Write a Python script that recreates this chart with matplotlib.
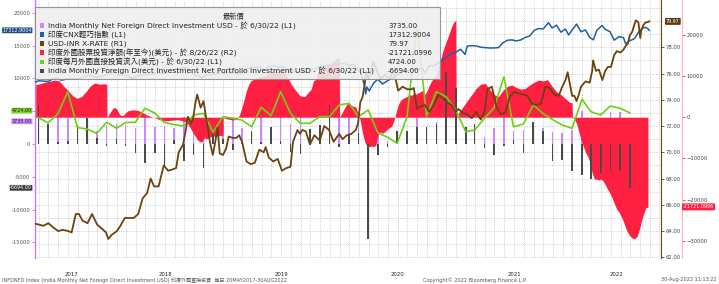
import matplotlib

matplotlib.use("Agg")

import matplotlib.pyplot as plt
import matplotlib.transforms as mtransforms
from matplotlib.patches import Rectangle
import pandas as pd

plt.rcParams['font.family'] = ['DejaVu Sans', 'Noto Sans CJK TC']

# monthly series (L1)
fdi_months = pd.date_range('2017-05-31', '2022-06-30', freq='ME')

net_fdi = [3000, 2500, 4150, 3900, 2000, 2500, 2000, 2900,
           3000, 2900, 2500, 4150, 2600, 2800, 2500, 4150, 2500, 2000, 2300, 3000,
           3900, 2400, 1500, 4150, 2200, 4150, 3000, 4150, 2000, 2500, 3000, 4150,
           4150, 3900, 3000, 1500, 500, 2000, 1500, 4150, 2000, 3300, 3000, 2500,
           2000, 1500, 1000, 2500, 4150, 2000, 2100, 3400, 2500, 1860, 1650, 2100,
           5000, 3000, 2500, 4900, 4900, 3735]

portfolio = [5900, 3100, 300, 500, 2900, 3900, 900, -300,
             800, -300, -1400, -2900, -1400, -3500, 600, -2600, -1700, -3600, 1500, 800,
             -900, 200, 1900, 300, 2600, 500, -1200, -1500, 2300, 2900, 5900, -500,
             1400, 1700, -14500, -1700, -400, 2000, 2000, 2600, 2600, 3000, 11000, 8500,
             2600, 3000, -700, -1700, -300, 600, -1400, 3400, 2000, -2600, -2500, -4100,
             -4700, -5400, -4500, -4100, -4100, -6694]

fdi_inflow = [4000, 3200, 4600, 7960, 2500, 2250, 1610, 3300,
              2380, 3260, 3300, 5430, 4700, 3260, 2950, 2700, 4400, 4660, 1800, 4150,
              3900, 3640, 2620, 5580, 4300, 7960, 4660, 3140, 3140, 4150, 4150, 5930,
              6190, 4150, 5170, 1700, 1000, 90, 4150, 18200, 4200, 7960, 7200, 5170,
              1860, 2120, 3900, 5500, 10240, 2620, 3030, 5930, 4660, 3700, 2880, 2380,
              6800, 4910, 4400, 5780, 5430, 4724]

# CNX Nifty (L1)
nifty_dates = ['2017-05-22', '2017-06-01', '2017-06-15', '2017-07-01', '2017-07-14', '2017-07-28',
               '2017-08-11', '2017-08-25', '2017-09-08', '2017-09-22', '2017-10-06', '2017-10-20',
               '2017-11-03', '2017-11-17', '2017-12-01', '2017-12-15', '2017-12-29',
               '2018-01-12', '2018-01-26', '2018-02-09', '2018-02-23', '2018-03-09', '2018-03-23',
               '2018-04-06', '2018-04-20', '2018-05-04', '2018-05-18', '2018-06-01', '2018-06-15',
               '2018-06-29', '2018-07-13', '2018-07-27', '2018-08-10', '2018-08-24', '2018-08-29',
               '2018-09-07', '2018-09-21', '2018-10-05', '2018-10-12', '2018-10-26', '2018-11-09',
               '2018-11-23', '2018-12-07', '2018-12-21',
               '2019-01-04', '2019-01-18', '2019-02-01', '2019-02-15', '2019-03-01', '2019-03-15',
               '2019-03-29', '2019-04-12', '2019-04-26', '2019-05-10', '2019-05-24', '2019-06-07',
               '2019-06-21', '2019-07-05', '2019-07-19', '2019-08-02', '2019-08-16', '2019-08-30',
               '2019-09-13', '2019-09-20', '2019-09-27', '2019-10-11', '2019-10-25', '2019-11-08',
               '2019-11-22', '2019-12-06', '2019-12-20',
               '2020-01-03', '2020-01-17', '2020-01-31', '2020-02-14', '2020-02-28', '2020-03-06',
               '2020-03-13', '2020-03-20', '2020-03-23', '2020-03-27', '2020-04-03', '2020-04-17',
               '2020-04-30', '2020-05-15', '2020-05-29', '2020-06-12', '2020-06-26', '2020-07-10',
               '2020-07-24', '2020-08-07', '2020-08-21', '2020-09-04', '2020-09-18', '2020-09-25',
               '2020-10-09', '2020-10-23', '2020-11-06', '2020-11-20', '2020-12-04', '2020-12-18',
               '2020-12-31',
               '2021-01-15', '2021-01-29', '2021-02-05', '2021-02-19', '2021-03-05', '2021-03-19',
               '2021-03-31', '2021-04-16', '2021-04-30', '2021-05-14', '2021-05-28', '2021-06-11',
               '2021-06-25', '2021-07-09', '2021-07-23', '2021-08-06', '2021-08-20', '2021-09-03',
               '2021-09-17', '2021-10-01', '2021-10-18', '2021-10-29', '2021-11-12', '2021-11-26',
               '2021-12-10', '2021-12-20', '2021-12-31',
               '2022-01-14', '2022-01-28', '2022-02-11', '2022-02-24', '2022-03-08', '2022-03-18',
               '2022-04-04', '2022-04-14', '2022-04-29', '2022-05-12', '2022-05-27', '2022-06-10',
               '2022-06-17', '2022-07-01', '2022-07-15', '2022-07-29', '2022-08-12', '2022-08-19',
               '2022-08-26', '2022-08-30']
nifty = [9440, 9620, 9580, 9520, 9890, 10010,
         9710, 9860, 9930, 9960, 9980, 10150,
         10450, 10280, 10120, 10330, 10530,
         10680, 11070, 10450, 10490, 10230, 9990,
         10330, 10560, 10620, 10600, 10700, 10820,
         10710, 11010, 11280, 11430, 11560, 11690,
         11590, 11140, 10320, 10470, 10030, 10590,
         10530, 10690, 10750,
         10730, 10900, 10890, 10720, 10860, 11430,
         11620, 11640, 11750, 11280, 11840, 11870,
         11720, 11810, 11420, 10990, 11050, 11020,
         11070, 11270, 11510, 11300, 11580, 11910,
         11910, 11920, 12270,
         12230, 12350, 11960, 12110, 11200, 10990,
         9950, 8750, 7610, 8660, 8080, 9270,
         9860, 9140, 9580, 9970, 10380, 10770,
         11190, 11210, 11370, 11330, 11500, 10800,
         11910, 11930, 12260, 12860, 13260, 13760,
         13980,
         14430, 13630, 14920, 14980, 14940, 14740,
         14690, 14620, 14630, 14680, 15430, 15800,
         15860, 15690, 15850, 16240, 16450, 17320,
         17590, 17530, 18480, 17670, 18100, 17030,
         17510, 16610, 17350,
         18260, 17100, 17370, 16250, 15860, 17290,
         18050, 17480, 17100, 15810, 16350, 16200,
         15290, 15750, 16050, 17160, 17700, 17760,
         17560, 17312.9004]

# USD-INR (R1)
inr_dates = ['2017-05-22', '2017-06-01', '2017-06-15', '2017-07-01', '2017-07-15', '2017-08-01',
             '2017-08-15', '2017-09-01', '2017-09-12', '2017-09-25', '2017-10-05', '2017-10-16',
             '2017-11-01', '2017-11-15', '2017-12-01', '2017-12-15', '2017-12-29',
             '2018-01-05', '2018-01-15', '2018-02-01', '2018-02-12', '2018-02-26', '2018-03-12',
             '2018-03-26', '2018-04-09', '2018-04-23', '2018-05-07', '2018-05-18', '2018-05-29',
             '2018-06-12', '2018-06-28', '2018-07-12', '2018-07-26', '2018-08-06', '2018-08-14',
             '2018-08-28', '2018-09-06', '2018-09-12', '2018-09-21', '2018-09-28', '2018-10-05',
             '2018-10-11', '2018-10-22', '2018-10-31', '2018-11-09', '2018-11-20', '2018-11-29',
             '2018-12-07', '2018-12-14', '2018-12-21', '2018-12-31',
             '2019-01-10', '2019-01-18', '2019-01-31', '2019-02-11', '2019-02-20', '2019-03-01',
             '2019-03-15', '2019-03-28', '2019-04-10', '2019-04-24', '2019-05-08', '2019-05-14',
             '2019-05-24', '2019-06-07', '2019-06-21', '2019-07-04', '2019-07-18', '2019-07-31',
             '2019-08-08', '2019-08-22', '2019-08-30', '2019-09-06', '2019-09-17', '2019-09-30',
             '2019-10-14', '2019-10-31', '2019-11-14', '2019-11-29', '2019-12-13', '2019-12-31',
             '2020-01-10', '2020-01-24', '2020-02-07', '2020-02-21', '2020-02-28', '2020-03-06',
             '2020-03-13', '2020-03-20', '2020-03-24', '2020-03-31', '2020-04-10', '2020-04-16',
             '2020-04-24', '2020-05-08', '2020-05-22', '2020-06-05', '2020-06-19', '2020-07-03',
             '2020-07-17', '2020-07-31', '2020-08-14', '2020-08-21', '2020-08-31', '2020-09-11',
             '2020-09-25', '2020-10-09', '2020-10-23', '2020-11-06', '2020-11-20', '2020-12-04',
             '2020-12-18', '2020-12-31',
             '2021-01-08', '2021-01-22', '2021-02-05', '2021-02-19', '2021-03-05', '2021-03-19',
             '2021-03-31', '2021-04-09', '2021-04-16', '2021-04-23', '2021-05-07', '2021-05-21',
             '2021-06-04', '2021-06-18', '2021-07-02', '2021-07-16', '2021-07-30', '2021-08-13',
             '2021-08-27', '2021-09-10', '2021-09-24', '2021-10-08', '2021-10-22', '2021-11-05',
             '2021-11-19', '2021-11-30', '2021-12-10', '2021-12-17', '2021-12-31',
             '2022-01-07', '2022-01-14', '2022-01-21', '2022-01-28', '2022-02-11', '2022-02-24',
             '2022-03-04', '2022-03-07', '2022-03-16', '2022-03-25', '2022-04-05', '2022-04-14',
             '2022-04-22', '2022-05-02', '2022-05-12', '2022-05-20', '2022-05-31', '2022-06-10',
             '2022-06-17', '2022-06-24', '2022-06-30', '2022-07-08', '2022-07-14', '2022-07-19',
             '2022-07-27', '2022-08-02', '2022-08-05', '2022-08-12', '2022-08-19', '2022-08-24',
             '2022-08-30']
inr = [64.55, 64.5, 64.4, 64.6, 64.3, 64.0,
       64.1, 64.0, 63.9, 65.3, 65.3, 64.8,
       64.6, 65.3, 64.5, 64.2, 63.9,
       63.4, 63.7, 64.0, 64.4, 65.0, 65.0,
       65.0, 65.3, 66.5, 66.9, 68.0, 67.4,
       67.4, 69.0, 68.6, 68.7, 68.8, 70.0,
       70.6, 71.8, 72.7, 72.2, 72.5, 73.7,
       74.4, 73.4, 73.9, 72.5, 70.8, 69.8,
       70.8, 71.9, 69.9, 69.8,
       70.3, 71.2, 71.1, 71.1, 71.3, 70.8,
       69.3, 69.1, 69.2, 70.2, 70.0, 70.4,
       69.6, 69.3, 69.5, 68.6, 68.8, 68.9,
       70.8, 71.7, 71.4, 71.7, 71.6, 70.6,
       71.3, 70.9, 72.0, 71.7, 70.8, 71.4,
       71.0, 71.3, 71.4, 71.7, 72.2, 73.8,
       74.2, 75.2, 76.2, 75.6, 76.3, 76.9,
       76.4, 75.6, 75.9, 75.6, 76.2, 74.7,
       75.0, 74.8, 74.8, 74.9, 73.3, 73.5,
       73.6, 73.1, 73.6, 74.4, 74.1, 73.8,
       73.6, 73.1,
       73.3, 73.0, 72.9, 72.6, 73.1, 72.5,
       73.1, 74.8, 74.9, 75.0, 73.5, 72.9,
       73.0, 74.2, 74.6, 74.5, 74.4, 74.3,
       73.7, 73.6, 73.7, 75.0, 74.9, 74.4,
       74.3, 75.0, 75.5, 76.1, 74.3,
       74.3, 73.9, 74.4, 75.0, 75.4, 75.3,
       76.2, 77.0, 76.2, 76.3, 75.5, 76.2,
       76.5, 76.5, 77.4, 77.7, 77.6, 77.8,
       78.1, 78.3, 78.9, 79.2, 79.7, 80.05,
       79.9, 78.7, 79.3, 79.7, 79.9, 79.9,
       79.97]

# foreign equity net investment, year to date (R2)
fpi_dates = ['2017-05-22', '2017-06-05', '2017-06-20', '2017-07-05', '2017-07-20', '2017-08-04',
             '2017-08-18', '2017-09-01', '2017-09-15', '2017-09-29', '2017-10-13', '2017-10-27',
             '2017-11-10', '2017-11-24', '2017-12-08', '2017-12-22', '2017-12-31',
             '2018-01-01', '2018-01-05', '2018-01-12', '2018-01-19', '2018-01-26', '2018-02-02',
             '2018-02-09', '2018-02-16', '2018-02-23', '2018-03-02', '2018-03-09', '2018-03-23',
             '2018-04-06', '2018-04-20', '2018-05-04', '2018-05-18', '2018-06-01', '2018-06-15',
             '2018-06-29', '2018-07-13', '2018-07-27', '2018-08-10', '2018-08-24', '2018-09-07',
             '2018-09-14', '2018-09-21', '2018-09-28', '2018-10-05', '2018-10-12', '2018-10-19',
             '2018-10-26', '2018-11-02', '2018-11-09', '2018-11-16', '2018-11-23', '2018-11-30',
             '2018-12-07', '2018-12-14', '2018-12-21', '2018-12-31',
             '2019-01-01', '2019-01-04', '2019-01-18', '2019-02-01', '2019-02-15', '2019-02-22',
             '2019-03-01', '2019-03-08', '2019-03-15', '2019-03-22', '2019-03-29', '2019-04-12',
             '2019-04-26', '2019-05-10', '2019-05-24', '2019-06-07', '2019-06-21', '2019-07-05',
             '2019-07-19', '2019-08-02', '2019-08-16', '2019-08-30', '2019-09-13', '2019-09-27',
             '2019-10-04', '2019-10-11', '2019-10-18', '2019-10-25', '2019-11-08', '2019-11-22',
             '2019-12-06', '2019-12-13', '2019-12-20', '2019-12-31',
             '2020-01-01', '2020-01-10', '2020-01-17', '2020-01-24', '2020-01-31', '2020-02-07',
             '2020-02-14', '2020-02-21', '2020-02-28', '2020-03-06', '2020-03-13', '2020-03-20',
             '2020-03-27', '2020-04-03', '2020-04-10', '2020-04-17', '2020-04-24', '2020-05-01',
             '2020-05-08', '2020-05-15', '2020-05-22', '2020-05-29', '2020-06-05', '2020-06-12',
             '2020-06-19', '2020-06-26', '2020-07-03', '2020-07-10', '2020-07-17', '2020-07-24',
             '2020-07-31', '2020-08-07', '2020-08-14', '2020-08-21', '2020-08-28', '2020-09-04',
             '2020-09-11', '2020-09-18', '2020-09-25', '2020-10-02', '2020-10-09', '2020-10-16',
             '2020-10-23', '2020-10-30', '2020-11-06', '2020-11-13', '2020-11-20', '2020-11-27',
             '2020-12-04', '2020-12-11', '2020-12-18', '2020-12-24', '2020-12-31',
             '2021-01-01', '2021-01-08', '2021-01-22', '2021-02-05', '2021-02-19', '2021-03-05',
             '2021-03-19', '2021-04-02', '2021-04-16', '2021-04-30', '2021-05-14', '2021-05-28',
             '2021-06-11', '2021-06-25', '2021-07-09', '2021-07-23', '2021-08-06', '2021-08-20',
             '2021-09-03', '2021-09-17', '2021-10-01', '2021-10-15', '2021-10-29', '2021-11-12',
             '2021-11-26', '2021-12-10', '2021-12-24', '2021-12-31',
             '2022-01-01', '2022-01-07', '2022-01-14', '2022-01-21', '2022-01-28', '2022-02-04',
             '2022-02-11', '2022-02-18', '2022-02-25', '2022-03-04', '2022-03-11', '2022-03-18',
             '2022-03-25', '2022-04-01', '2022-04-08', '2022-04-15', '2022-04-22', '2022-04-29',
             '2022-05-06', '2022-05-13', '2022-05-20', '2022-05-27', '2022-06-03', '2022-06-10',
             '2022-06-17', '2022-06-24', '2022-07-01', '2022-07-08', '2022-07-15', '2022-07-22',
             '2022-07-29', '2022-08-05', '2022-08-12', '2022-08-19', '2022-08-26']
fpi_ytd = [7900, 8100, 8500, 8700, 9000, 8800,
           7500, 6500, 5200, 4600, 5000, 6200,
           7600, 8300, 8000, 8100, 8000,
           0, 400, 1300, 2100, 2400, 1800,
           700, 400, 600, 1200, 1600, 1800,
           1700, 1300, 600, 200, -100, -600,
           -900, -800, -700, -600, -800, -1200,
           -1900, -2800, -3800, -4600, -5500, -5900,
           -6000, -5000, -5200, -5000, -4700, -4500,
           -4700, -4500, -4400, -4400,
           0, -200, -500, -700, -300, 800,
           2500, 4500, 6500, 8000, 8800, 9500,
           9800, 10000, 10800, 11000, 11100, 11300,
           10200, 8000, 6500, 5200, 5000, 6200,
           6800, 8800, 9200, 11000, 11800, 12800,
           13200, 13500, 14300, 14200,
           0, 1200, 2300, 3200, 3400, 2900,
           2600, 2500, 1000, -800, -3800, -6000,
           -7000, -7100, -7000, -7100, -6800, -4000,
           -3600, -3900, -3500, -3000, -2600, -2200,
           -1000, 1000, 3000, 4000, 4500, 4800,
           5000, 5500, 5300, 5800, 5600, 5900,
           6200, 6500, 5500, 6500, 7800, 8800,
           9500, 10000, 12000, 14000, 16000, 17500,
           19000, 20500, 22000, 23000, 23500,
           0, 1000, 2500, 4000, 5500, 7000,
           8000, 8200, 6800, 5500, 5000, 6500,
           7500, 7800, 7200, 6800, 7000, 7800,
           8500, 9000, 8800, 9100, 7500, 6200,
           5500, 4500, 3600, 3500,
           0, -500, -1500, -3500, -5500, -7000,
           -8500, -9500, -11000, -13500, -15000, -15000,
           -15200, -15000, -15500, -16500, -17500, -18500,
           -19600, -21000, -22300, -23000, -24000, -25300,
           -26800, -28000, -28800, -29300, -29400, -29000,
           -27500, -25300, -23500, -22000, -21721.0996]

years = [2017, 2018, 2019, 2020, 2021, 2022]

# colours
c_purple = '#cc88ff'
c_blue = '#1f5fa8'
c_brown = '#6b4310'
c_red = '#ff1f40'
c_green = '#6fcf17'
c_gray = '#4a4a4a'

W, H = 719, 284
fig = plt.figure(figsize=(W / 100, H / 100), dpi=100)
rect = [35 / W, 26 / H, 626 / W, 258 / H]

# stacking: purple bars under the red area, everything else above it
ax_bot = fig.add_axes(rect)
ax_r2 = fig.add_axes(rect, sharex=ax_bot, facecolor='none')
ax_l1 = fig.add_axes(rect, sharex=ax_bot, facecolor='none')
ax_r1 = fig.add_axes(rect, sharex=ax_bot, facecolor='none')

x0 = pd.Timestamp('2017-05-20')
x1 = pd.Timestamp('2022-10-06')
ax_bot.set_xlim(x0, x1)
ax_r2.set_ylim(-34120, 28410)
ax_l1.set_ylim(-17393, 21936)
ax_bot.set_ylim(-17393, 21936)
ax_r1.set_ylim(61.95, 81.6)

for a in (ax_bot, ax_r2, ax_l1, ax_r1):
    for s in a.spines.values():
        s.set_visible(False)
    a.tick_params(axis='both', left=False, right=False, bottom=False,
                  labelleft=False, labelright=False, labelbottom=False)

# grid: monthly verticals, horizontals on R1 units
months = pd.date_range('2017-06-01', '2022-10-01', freq='MS')
ax_bot.vlines(months, 0, 1, transform=ax_bot.get_xaxis_transform(),
              color='#c4c4c4', lw=0.6, linestyles=(0, (1, 1.5)), zorder=0)
hgrid = mtransforms.blended_transform_factory(ax_bot.transAxes, ax_r1.transData)
ax_bot.hlines(range(62, 82), 0, 1, transform=hgrid,
              color='#c4c4c4', lw=0.6, linestyles=(0, (1, 1.5)), zorder=0)

ax_bot.bar(fdi_months, net_fdi, width=5, color=c_purple, lw=0, zorder=2)

# red area
ax_r2.fill_between(pd.to_datetime(fpi_dates), 0, fpi_ytd, color=c_red, lw=0, zorder=2)

# bars and L1 lines
ax_l1.bar(fdi_months, portfolio, width=5, color=c_gray, lw=0, zorder=3)
ax_l1.plot(fdi_months, fdi_inflow, color=c_green, lw=1.2, zorder=4)
ax_l1.plot(pd.to_datetime(nifty_dates), nifty, color=c_blue, lw=1.1, zorder=5)

ax_r1.plot(pd.to_datetime(inr_dates), inr, color=c_brown, lw=1.3, zorder=5)

# x labels: years centred on their span
mids = []
for y in years:
    a = max(pd.Timestamp(f'{y}-01-01'), x0)
    b = min(pd.Timestamp(f'{y + 1}-01-01'), x1)
    mids.append(a + (b - a) / 2)
ax_bot.set_xticks(mids)
ax_bot.set_xticklabels([str(y) for y in years], fontsize=3.9, color='#222222')
ax_bot.tick_params(axis='x', labelbottom=True, length=0, pad=10)

# L1 axis (the 5000 label sits under the last-value tags)
l1_ticks = [-15000, -10000, -5000, 0, 5000, 10000, 15000, 20000]
ax_l1.spines['left'].set_visible(True)
ax_l1.spines['left'].set_color('#cc77ff')
ax_l1.spines['left'].set_linewidth(1.0)
ax_l1.set_yticks(l1_ticks)
ax_l1.set_yticklabels(['' if v == 5000 else str(v) for v in l1_ticks])
ax_l1.tick_params(axis='y', left=True, labelleft=True,
                  length=2.5, width=0.6, color='#bb77ff', labelsize=3.8,
                  labelcolor='#555555', pad=1)

# R1 axis
ax_r1.spines['right'].set_visible(True)
ax_r1.spines['right'].set_color(c_brown)
ax_r1.spines['right'].set_linewidth(0.8)
ax_r1.set_yticks(range(62, 80, 2))
ax_r1.set_yticklabels([f'{v:.2f}' for v in range(62, 80, 2)])
ax_r1.tick_params(axis='y', right=True, labelright=True, length=2, width=0.6,
                  color=c_brown, labelsize=3.8, labelcolor='#444444', pad=1)

# R2 axis
ax_r2.spines['right'].set_visible(True)
ax_r2.spines['right'].set_position(('axes', 1 + 21 / 626))
ax_r2.spines['right'].set_color('#ffb3c0')
ax_r2.spines['right'].set_linewidth(0.8)
ax_r2.set_yticks([-30000, -20000, -10000, 0, 10000, 20000])
ax_r2.tick_params(axis='y', right=True, labelright=True, length=2, width=0.6,
                  color=c_red, labelsize=3.8, labelcolor='#444444', pad=1.5)

# last value tags
tag_kw = dict(fontsize=3.5, va='center', zorder=20, annotation_clip=False,
              textcoords='offset points')
left_tags = [(nifty[-1], '17312.9004', '#1f4e80', 'white', 0),
             (fdi_inflow[-1], f'{fdi_inflow[-1]:.2f}', '#7fd321', '#222222', 1.6),
             (net_fdi[-1], f'{net_fdi[-1]:.2f}', '#cc88ff', '#222222', -1.4),
             (portfolio[-1], f'{portfolio[-1]:.2f}', '#3a3a3a', 'white', 0)]
ltr = mtransforms.blended_transform_factory(ax_l1.transAxes, ax_l1.transData)
for v, s, fc, tc, dy in left_tags:
    ax_l1.annotate(s, (-3 / 626, v), xycoords=ltr, xytext=(0, dy), ha='right', color=tc,
                   bbox=dict(boxstyle='round,pad=0.08', fc=fc, ec='none'), **tag_kw)

r1tr = mtransforms.blended_transform_factory(ax_r1.transAxes, ax_r1.transData)
ax_r1.annotate(f'{inr[-1]:.2f}', (1 + 5 / 626, inr[-1]), xycoords=r1tr, xytext=(0, 0),
               ha='left', color='white',
               bbox=dict(boxstyle='round,pad=0.2', fc='#5a3a10', ec='none'), **tag_kw)
r2tr = mtransforms.blended_transform_factory(ax_r2.transAxes, ax_r2.transData)
ax_r2.annotate(f'{fpi_ytd[-1]:.4f}', (1 + 22 / 626, fpi_ytd[-1]), xycoords=r2tr, xytext=(0, 0),
               ha='left', color='white',
               bbox=dict(boxstyle='round,pad=0.2', fc=c_red, ec='none'), **tag_kw)

# legend table
fig.add_artist(Rectangle((35 / W, 1 - 79 / H), 405 / W, 72 / H, transform=fig.transFigure,
                         facecolor='#efefef', alpha=0.88, edgecolor='#8a8a8a', lw=0.8,
                         zorder=10))
fig.text(234 / W, 1 - 16 / H, '最新價', fontsize=5.2, ha='center', va='center',
         color='#333333', zorder=11)
rows = [('India Monthly Net Foreign Direct Investment USD - 於 6/30/22 (L1)', c_purple, f'{net_fdi[-1]:.2f}'),
        ('印度CNX輕巧指數 (L1)', c_blue, '17312.9004'),
        ('USD-INR X-RATE (R1)', c_brown, f'{inr[-1]:.2f}'),
        ('印度外國股票投資淨額(年至今)(美元) - 於 8/26/22 (R2)', c_red, f'{fpi_ytd[-1]:.4f}'),
        ('印度每月外國直接投資流入(美元) - 於 6/30/22 (L1)', c_green, f'{fdi_inflow[-1]:.2f}'),
        ('India Monthly Foreign Direct Investment Net Portfolio Investment USD - 於 6/30/22 (L1)',
         c_gray, f'{portfolio[-1]:.2f}')]
for i, (label, col, val) in enumerate(rows):
    yy = 1 - (25.5 + i * 9.05) / H
    fig.add_artist(Rectangle((40 / W, yy - 2.2 / H), 4.4 / W, 4.4 / H, transform=fig.transFigure,
                             facecolor=col, edgecolor='none', zorder=11))
    fig.text(48 / W, yy, label, fontsize=5.4, va='center', color='#222222', zorder=11)
    fig.text(388 / W, yy, val, fontsize=5.0, va='center', color='#222222', zorder=11)

# footer
foot = dict(fontsize=3.6, color='#555555', va='center')
fig.text(2 / W, 1 - 280 / H,
         'INFDNFD Index (India Monthly Net Foreign Direct Investment USD) 印度外國直接投資  每日 20MAY2017-30AUG2022',
         **foot)
fig.text(423 / W, 1 - 280 / H, 'Copyright© 2022 Bloomberg Finance L.P.', **foot)
fig.text(717 / W, 1 - 280 / H, '30-Aug-2022 11:13:22', ha='right', **foot)

fig.savefig('out.png', dpi=100)
